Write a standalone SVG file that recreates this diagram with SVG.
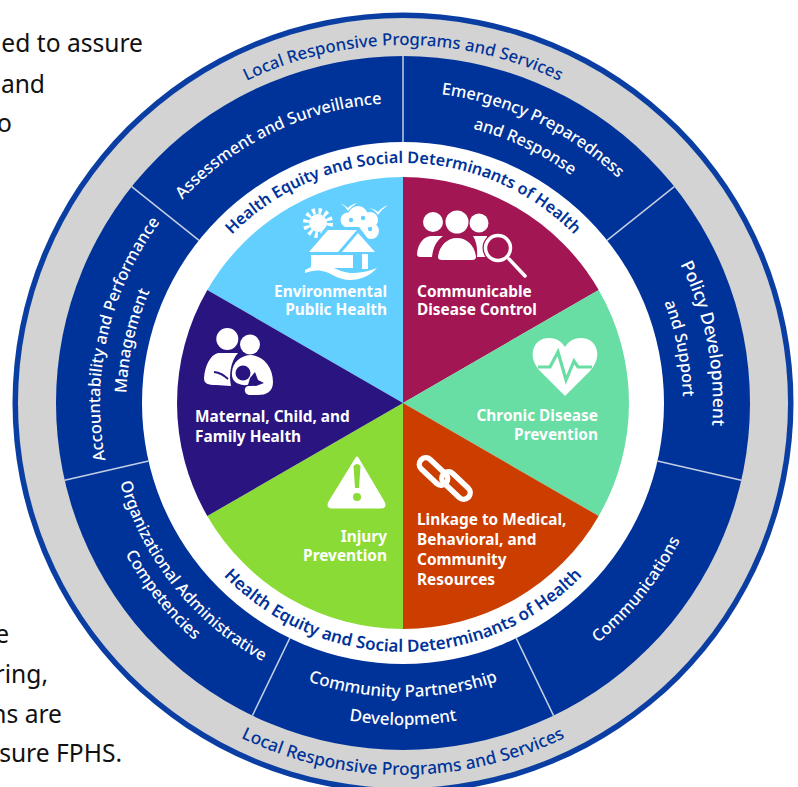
<svg xmlns="http://www.w3.org/2000/svg" width="798" height="787" viewBox="0 0 798 787">
<style>
text{font-family:"Noto Sans","Open Sans","Liberation Sans",sans-serif}
.bg{font-size:24.600px;fill:#111;text-anchor:end}
.tp{text-anchor:middle}
.lr{font-size:16.800px;fill:#003399;font-weight:500}
.lb{font-size:17.400px;fill:#003399;font-weight:500}
.he{font-size:16.200px;fill:#003399;font-weight:600}
.hb{font-size:17px;fill:#003399;font-weight:600}
.fn{font-size:16.400px;fill:#fff;font-weight:500}
.fl{font-size:16.900px;fill:#fff;font-weight:500}
.pl{font-size:15.400px;font-weight:700;fill:#fff}
.e{text-anchor:end}
.div{stroke:#c4cfe4;stroke-width:1.500;fill:none}
.w{fill:#fff}
</style>
<defs>
<path id="c358" d="M45 403A358 358 0 0 1 761 403"/>
<path id="c240" d="M163 403A240 240 0 0 1 643 403"/>
<path id="c300" d="M103 403A300 300 0 0 1 703 403"/>
<path id="c311" d="M92 403A311 311 0 0 1 714 403"/>
<path id="c283" d="M120 403A283 283 0 0 1 686 403"/>
<path id="c310" d="M93 403A310 310 0 0 1 713 403"/>
<path id="c280" d="M123 403A280 280 0 0 1 683 403"/>
<path id="c303" d="M100 403A303 303 0 0 1 706 403"/>
<path id="c277" d="M126 403A277 277 0 0 1 680 403"/>
<path id="a372" d="M31 403A372 372 0 0 0 775 403"/>
<path id="a249" d="M154 403A249 249 0 0 0 652 403"/>
<path id="a309" d="M94 403A309 309 0 0 0 712 403"/>
<path id="a294" d="M109 403A294 294 0 0 0 697 403"/>
<path id="a322" d="M81 403A322 322 0 0 0 725 403"/>
<path id="a316" d="M87 403A316 316 0 0 0 719 403"/>
</defs>
<rect width="798" height="787" fill="#fff"/>
<g id="background-text">
<text class="bg" x="143" y="52">ed to assure</text>
<text class="bg" x="45" y="93">and</text>
<text class="bg" x="12" y="132">o</text>
<text class="bg" x="9" y="643">e</text>
<text class="bg" x="48" y="683">ring,</text>
<text class="bg" x="62" y="723">ns are</text>
<text class="bg" x="122" y="762">sure FPHS.</text>
</g>
<g id="rings">
<circle cx="403" cy="403" r="390.500" fill="#0b3ea3"/>
<circle cx="403" cy="403" r="385" fill="#d3d3d3"/>
<circle cx="403" cy="403" r="347" fill="#003399"/>
<circle cx="403" cy="403" r="261" fill="#fff"/>
</g>
<g id="connectors">
<path class="div" d="M403 142V56M607 240.300L674.300 186.600M657.400 461.100L741.300 480.200M516.200 638.200L553.600 715.600M289.800 638.200L252.400 715.600M148.600 461.100L64.700 480.200M199 240.300L131.700 186.600"/>
</g>
<g id="local-programs">
<text class="lr tp"><textPath href="#c358" startOffset="50%">Local Responsive Programs and Services</textPath></text>
<text class="lb tp"><textPath href="#a372" startOffset="50%">Local Responsive Programs and Services</textPath></text>
</g>
<g id="health-equity">
<text class="he tp"><textPath href="#c240" startOffset="50%">Health Equity and Social Determinants of Health</textPath></text>
<text class="hb tp"><textPath href="#a249" startOffset="50%">Health Equity and Social Determinants of Health</textPath></text>
</g>
<g id="assessment"><text class="fn tp" transform="rotate(-25.700 403 403)"><textPath href="#c300" startOffset="50%">Assessment and Surveillance</textPath></text></g>
<g id="emergency">
<text class="fn tp" transform="rotate(25.400 403 403)"><textPath href="#c311" startOffset="50%">Emergency Preparedness</textPath></text>
<text class="fn tp" transform="rotate(25.400 403 403)"><textPath href="#c283" startOffset="50%">and Response</textPath></text>
</g>
<g id="policy">
<text class="tp" style="font-size:17.600px;fill:#fff;font-weight:500" transform="rotate(78.800 403 403)"><textPath href="#c310" startOffset="50%">Policy Development</textPath></text>
<text class="fn tp" transform="rotate(78.800 403 403)"><textPath href="#c280" startOffset="50%">and Support</textPath></text>
</g>
<g id="communications"><text class="fn tp" transform="rotate(-51.400 403 403)"><textPath href="#a309" startOffset="50%">Communications</textPath></text></g>
<g id="community-partnership">
<text class="fl tp"><textPath href="#a294" startOffset="50%">Community Partnership</textPath></text>
<text class="fl tp"><textPath href="#a322" startOffset="50%">Development</textPath></text>
</g>
<g id="organizational">
<text class="fn tp" transform="rotate(51.400 403 403)"><textPath href="#a294" startOffset="50%">Organizational Administrative</textPath></text>
<text class="fn tp" transform="rotate(51.400 403 403)"><textPath href="#a316" startOffset="50%">Competencies</textPath></text>
</g>
<g id="accountability">
<text class="fn tp" transform="rotate(-77.100 403 403)"><textPath href="#c303" startOffset="50%">Accountability and Performance</textPath></text>
<text class="fn tp" transform="rotate(-77.100 403 403)"><textPath href="#c277" startOffset="50%">Management</textPath></text>
</g>
<g id="environmental">
<path d="M403 403V177A226 226 0 0 0 207.300 290Z" fill="#62cfff"/>
<g class="w">
<circle cx="318" cy="223" r="9"/>
<circle cx="318" cy="223" r="12" fill="none" stroke="#fff" stroke-width="6" stroke-dasharray="3.100 3.200"/>
<circle cx="358" cy="216" r="10"/><circle cx="348" cy="220" r="7.500"/><circle cx="370" cy="220" r="8"/><circle cx="371" cy="231" r="8"/><circle cx="358" cy="225" r="9"/>
<path d="M340 203Q346 206 348 208Q350 205 357 203Q352 206 348 211Q345 206 340 203ZM369 208Q375 209 378 212Q381 208 388 205Q382 209 378 215Q375 210 369 208Z"/>
</g>
<g fill="#62cfff"><circle cx="351" cy="220" r="2.200"/><circle cx="363" cy="218" r="2.200"/><circle cx="370" cy="229" r="2.200"/></g>
<path d="M303 256L326 227H359L381 256Z" fill="#62cfff"/>
<g class="w">
<path d="M309 252L328 230H357L338 252Z"/>
<path d="M342 252L358 233L375 252Z"/>
<path d="M311 255H353V268H311ZM362 254H368V269H362Z"/>
<path d="M305 270C312 266 318 265 324 265C332 265 338 272 350 273C360 273 370 271 377 268C370 276 360 280 350 280C338 280 330 272 322 271C316 270 311 271 305 273Z"/>
</g>
<text class="pl e" x="387" y="297">Environmental</text>
<text class="pl e" x="387" y="315">Public Health</text>
</g>
<g id="communicable">
<path d="M403 403V177A226 226 0 0 1 598.700 290Z" fill="#a31654"/>
<g class="w">
<circle cx="433" cy="222" r="10"/><circle cx="457" cy="222" r="11.500"/><circle cx="479" cy="223" r="9.500"/>
<path d="M417 254C418 243 424 236 432 236H443C436 241 433 248 432 257L420 257Q417 257 417 254Z"/>
<path d="M438 257C439 246 447 238 457 238C467 238 475 246 476 257Q476 260 472 260H442Q438 260 438 257Z"/>
<path d="M473 236H487V257H477Q478 244 473 236Z"/>
</g>
<circle cx="498" cy="248" r="15.500" fill="#a31654"/>
<circle cx="498" cy="248" r="12.500" fill="#a31654" stroke="#fff" stroke-width="3.500"/>
<path d="M509 259L525 276" stroke="#fff" stroke-width="3.500" stroke-linecap="round"/>
<text class="pl" x="417" y="297">Communicable</text>
<text class="pl" x="417" y="315">Disease Control</text>
</g>
<g id="chronic">
<path d="M403 403L598.700 290A226 226 0 0 1 598.700 516Z" fill="#68dda4"/>
<path d="M565 396L541 372C526 357 533 338 549 338C557 338 562 342 565 347C568 342 573 338 581 338C597 338 604 357 589 372Z" fill="#fff"/>
<path d="M538 367H550L558 352L566 380L574 361L578 367H592" fill="none" stroke="#68dda4" stroke-width="3.200"/>
<text class="pl e" x="598" y="421">Chronic Disease</text>
<text class="pl e" x="598" y="440">Prevention</text>
</g>
<g id="linkage">
<path d="M403 403L598.700 516A226 226 0 0 1 403 629Z" fill="#cc3d00"/>
<g fill="none" stroke="#fff" stroke-width="5.500">
<rect x="-17" y="-6.500" width="34" height="13" rx="6.500" transform="translate(433.500 471.500) rotate(43)"/>
<rect x="-17" y="-6.500" width="34" height="13" rx="6.500" transform="translate(456 485.500) rotate(43)"/>
</g>
<text class="pl" x="417" y="525">Linkage to Medical,</text>
<text class="pl" x="417" y="545">Behavioral, and</text>
<text class="pl" x="417" y="565">Community</text>
<text class="pl" x="417" y="585">Resources</text>
</g>
<g id="injury">
<path d="M403 403V629A226 226 0 0 1 207.300 516Z" fill="#8adb36"/>
<path d="M357 458L383 502Q386 507 381 507H332Q327 507 330 502Z" fill="#fff" stroke="#fff" stroke-width="3" stroke-linejoin="round"/>
<path d="M353.500 466Q357 462 360.500 466L359 488H355Z" fill="#8adb36"/>
<circle cx="357" cy="497" r="4" fill="#8adb36"/>
<text class="pl e" x="387" y="542">Injury</text>
<text class="pl e" x="387" y="561">Prevention</text>
</g>
<g id="maternal">
<path d="M403 403L207.300 516A226 226 0 0 1 207.300 290Z" fill="#2a1480"/>
<g class="w">
<circle cx="227.300" cy="339" r="11"/><circle cx="250" cy="344.500" r="10"/>
<path d="M238 353H218C210 355 205 366 204 378C204 384 208 385 216 385L231 386C229 376 230 362 238 353Z"/>
<path d="M232 372C233 362 240 356 250 355C262 355 273 366 273 382C273 392 266 395 258 395H250C244 395 243 387 248 386C254 386 257 386 256 380Q250 386 243 385C236 384 231 380 232 372Z"/>
</g>
<path d="M214 372Q222 373 228 379" fill="none" stroke="#2a1480" stroke-width="1.800"/>
<circle cx="243" cy="373" r="7.500" fill="#2a1480"/>
<path d="M250 378L255 372L258 380L264 383L256 386L248 385Z" fill="#2a1480"/>
<text class="pl" x="195" y="422">Maternal, Child, and</text>
<text class="pl" x="195" y="442">Family Health</text>
</g>
</svg>
